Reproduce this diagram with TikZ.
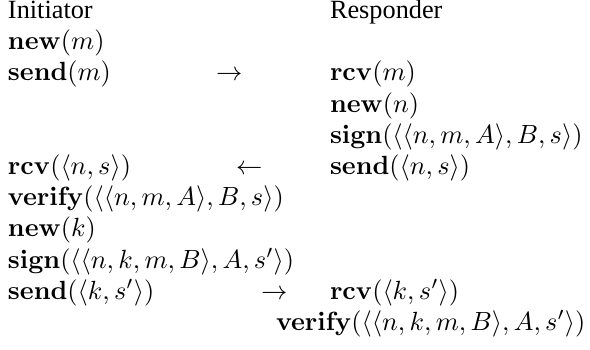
\documentclass[tikz,border=0pt]{standalone}
\usepackage[no-math]{fontspec}
\newfontfamily\lblfont{Liberation Serif}
\begin{document}
\begin{tikzpicture}[x=0.3802pt,y=-0.3802pt,
  stp/.style={inner sep=0pt,outer sep=0pt,anchor=base west},
  lbl/.style={stp,font=\lblfont},
  msg/.style={stp}]
\useasboundingbox (0,0) rectangle (590,350);
% headers
\node[lbl] (ini) at (8,18.5) {Initiator};
\node[lbl] (res) at (330,18.5) {Responder};
% initiator column
\node[stp] (i1) at (8,49.7) {$\mathbf{new}(m)$};
\node[stp] (i2) at (8,80.9) {$\mathbf{send}(m)$};
\node[stp] (i3) at (8,174.5) {$\mathbf{rcv}(\langle n,s\rangle)$};
\node[stp] (i4) at (8,205.7) {$\mathbf{verify}(\langle\langle n,m,A\rangle,B,s\rangle)$};
\node[stp] (i5) at (8,236.9) {$\mathbf{new}(k)$};
\node[stp] (i6) at (8,268.1) {$\mathbf{sign}(\langle\langle n,k,m,B\rangle,A,s'\rangle)$};
\node[stp] (i7) at (8,299.3) {$\mathbf{send}(\langle k,s'\rangle)$};
% responder column
\node[stp] (r1) at (330,80.9) {$\mathbf{rcv}(m)$};
\node[stp] (r2) at (330,112.1) {$\mathbf{new}(n)$};
\node[stp] (r3) at (330,143.3) {$\mathbf{sign}(\langle\langle n,m,A\rangle,B,s\rangle)$};
\node[stp] (r4) at (330,174.5) {$\mathbf{send}(\langle n,s\rangle)$};
\node[stp] (r5) at (330,299.3) {$\mathbf{rcv}(\langle k,s'\rangle)$};
\node[stp] (r6) at (276,330.5) {$\mathbf{verify}(\langle\langle n,k,m,B\rangle,A,s'\rangle)$};
% message arrows
\node[msg] (m1) at (216,80.9) {$\rightarrow$};
\node[msg] (m2) at (236,174.5) {$\leftarrow$};
\node[msg] (m3) at (261,299.3) {$\rightarrow$};
\end{tikzpicture}
\end{document}
